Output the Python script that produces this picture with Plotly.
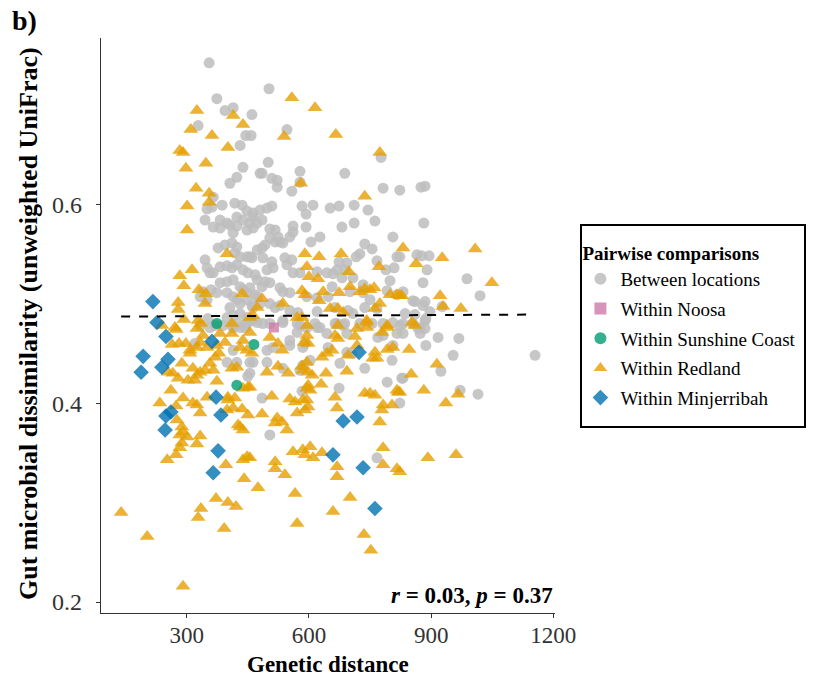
import plotly.graph_objects as go

# ---------------- data ----------------
between_x = [355,374,394,414,460,328,445,458,431,438,423,406,480,365,387,418,436,350,362,448,463,345,382,399,423,438,455,473,
             365,382,406,423,414,448,463,473,377,394,411,423,418,431,345,448,460,350,365,382,399,411,423,438,450,473,468,357,
             382,399,414,431,438,448,333,350,360,374,399,414,423,406,431,448,460,473,340,399,414,431,448,463,352,411,426,443,
             320,333,399,423,455,414,431,448,414,357,370,389,450,
             497,512,463,497,553,571,553,585,590,536,578,615,627,644,664,688,693,647,603,585,578,693,706,676,737,769,782,816,
             831,804,806,792,828,823,583,674,485,504,767,536,455,
             873,885,868,885,887,917,968,954,924,831,971,1015,1155,
             823,875,885,882,865,877,895,823,890,880,988,1020,855,860,885,880,927,897,836,860,887,823,855,873,
             502,546,500,485,578,578,509,522,522,558,688,777,782,583,610,593,652,674,711,745,762,711,681,593,561,561,553,627,
             605,480,497,509,463,485,504,517,504,517,529,524,536,492,485,806,737,755,816,725,716,693,674,688,669,644,659,578,
             561,620,541,558,546,487,509,512,497,455,767,789,809,799,657,681,708,733,492,504,485,455,468,529,553,536,595,620,
             647,701,733,750,792,816,831,504,517,529,553,573,620,664,696,708,737,767,463,480,455,473,487,504,536,571,595,620,
             669,684,725,755,782,806,831]
between_y = [0.742,0.706,0.694,0.697,0.690,0.679,0.669,0.669,0.659,0.637,0.627,0.621,0.631,0.607,0.599,0.601,0.599,0.595,0.597,
             0.593,0.591,0.584,0.584,0.581,0.587,0.584,0.581,0.581,0.577,0.576,0.579,0.578,0.571,0.574,0.576,0.554,0.556,0.559,
             0.561,0.557,0.551,0.547,0.544,0.547,0.546,0.536,0.531,0.537,0.538,0.536,0.539,0.534,0.531,0.524,0.529,0.531,0.521,
             0.522,0.524,0.517,0.514,0.511,0.507,0.504,0.514,0.511,0.511,0.507,0.504,0.496,0.500,0.504,0.498,0.507,0.512,0.486,
             0.488,0.490,0.486,0.483,0.485,0.478,0.480,0.476,
             0.460,0.478,0.441,0.441,0.441,0.453,0.476,0.480,0.476,0.476,0.478,0.478,0.427,
             0.453,0.456,0.441,0.441,0.463,0.471,0.458,0.456,0.460,0.481,0.478,0.480,0.476,0.470,0.480,0.480,0.470,0.456,0.443,
             0.438,0.433,0.451,0.450,0.440,0.435,0.466,0.468,0.470,0.470,0.443,0.458,0.421,0.425,0.400,0.412,0.415,0.405,0.368,
             0.345,0.435,0.430,
             0.470,0.475,0.475,0.483,0.458,0.466,0.465,0.448,0.432,0.425,0.413,0.409,0.448,
             0.614,0.617,0.618,0.581,0.549,0.548,0.548,0.547,0.534,0.521,0.525,0.508,0.503,0.502,0.502,0.498,0.497,0.492,0.490,
             0.489,0.485,0.478,0.480,0.476,
             0.716,0.675,0.642,0.631,0.633,0.622,0.626,0.624,0.617,0.613,0.631,0.647,0.616,0.598,0.599,0.590,0.596,0.598,0.599,
             0.594,0.583,0.581,0.577,0.577,0.578,0.572,0.567,0.567,0.562,0.594,0.596,0.598,0.587,0.584,0.575,0.574,0.566,0.562,
             0.562,0.567,0.561,0.559,0.556,0.567,0.560,0.555,0.547,0.550,0.547,0.541,0.542,0.534,0.534,0.531,0.530,0.531,0.531,
             0.532,0.546,0.544,0.539,0.546,0.542,0.536,0.534,0.547,0.543,0.534,0.536,0.523,0.517,0.526,0.526,0.519,0.522,0.521,
             0.517,0.516,0.509,0.516,0.511,0.512,0.507,0.506,0.507,0.512,0.511,0.504,0.513,0.509,0.512,0.500,0.496,0.498,0.493,
             0.491,0.492,0.496,0.493,0.490,0.496,0.495,0.496,0.500,0.483,0.481,0.480,0.480,0.483,0.480,0.476,0.476,0.480,0.478,
             0.480,0.480,0.480,0.481,0.480]

redland_x = [325,310,362,414,438,401,283,291,347,298,323,355,355,301,301,399,313,283,293,330,347,345,279,279,436,293,328,335,
             239,271,411,463,
             274,264,281,298,308,308,325,340,333,350,325,382,374,394,411,431,448,460,438,379,370,357,365,345,288,254,266,279,
             303,320,325,315,333,374,411,423,261,234,291,274,325,315,333,350,401,401,418,438,450,399,414,436,450,276,288,291,
             283,301,333,325,431,438,426,288,283,274,252,396,448,438,441,475,372,335,328,401,421,392,139,203,291,
             504,534,524,455,497,524,549,583,585,598,595,608,598,603,595,630,642,693,509,455,553,566,585,595,598,590,571,485,
             522,517,534,546,664,669,737,750,762,782,804,779,774,816,819,806,792,762,757,767,671,664,696,718,779,742,742,792,
             718,713,671,588,598,595,644,657,632,561,585,603,590,610,632,517,517,541,455,566,669,669,782,782,816,701,659,571,
             735,752,
             853,860,846,914,851,823,882,936,966,892,961,823,
             831,863,927,1008,1049,823,922,929,973,
             558,615,539,666,774,580,737,590,625,679,595,600,622,698,772,583,590,635,625,674,701,725,737,750,760,774,762,799,
             816,828,652,671,684,536,485,473,571,583,595,742,792,455]
redland_y = [0.694,0.675,0.669,0.689,0.680,0.657,0.654,0.652,0.641,0.636,0.616,0.611,0.602,0.598,0.574,0.550,0.534,0.528,0.518,
             0.514,0.510,0.500,0.501,0.494,0.510,0.484,0.483,0.480,0.478,0.476,0.480,0.488,
             0.474,0.459,0.460,0.460,0.453,0.450,0.475,0.468,0.461,0.456,0.456,0.470,0.458,0.461,0.470,0.456,0.453,0.450,0.463,
             0.450,0.446,0.440,0.433,0.433,0.440,0.431,0.430,0.425,0.423,0.423,0.428,0.435,0.431,0.422,0.435,0.436,0.413,0.400,
             0.405,0.397,0.398,0.400,0.390,0.406,0.406,0.403,0.405,0.415,0.416,0.393,0.395,0.394,0.388,0.383,0.376,0.371,0.368,
             0.366,0.367,0.359,0.376,0.373,0.378,0.360,0.355,0.348,0.343,0.338,0.346,0.343,0.324,0.315,0.304,0.294,0.285,0.300,
             0.296,0.274,0.290,0.266,0.216,
             0.466,0.453,0.460,0.471,0.431,0.437,0.430,0.437,0.433,0.431,0.441,0.428,0.418,0.413,0.415,0.419,0.430,0.432,0.407,
             0.416,0.404,0.401,0.403,0.403,0.396,0.393,0.390,0.389,0.385,0.380,0.381,0.373,0.406,0.395,0.410,0.410,0.408,0.398,
             0.398,0.393,0.381,0.413,0.411,0.456,0.454,0.451,0.445,0.445,0.465,0.468,0.448,0.458,0.471,0.476,0.481,0.478,0.475,
             0.467,0.478,0.461,0.460,0.468,0.450,0.453,0.446,0.351,0.353,0.356,0.348,0.345,0.350,0.341,0.334,0.328,0.345,0.309,
             0.336,0.326,0.355,0.338,0.334,0.305,0.291,0.279,0.268,0.252,
             0.481,0.478,0.454,0.439,0.429,0.411,0.413,0.400,0.409,0.345,0.348,0.331,
             0.556,0.540,0.546,0.555,0.521,0.508,0.508,0.497,0.495,
             0.707,0.697,0.668,0.670,0.652,0.621,0.608,0.550,0.547,0.550,0.537,0.527,0.525,0.532,0.537,0.513,0.509,0.512,0.503,
             0.511,0.517,0.512,0.515,0.514,0.516,0.500,0.495,0.509,0.509,0.508,0.495,0.495,0.491,0.500,0.505,0.496,0.486,0.486,
             0.478,0.483,0.476,0.486]

minj_x = [217,227,249,193,254,239,188,362,372,261,249,384,247,377,365,723,684,718,659,733,762]
minj_y = [0.502,0.481,0.467,0.447,0.444,0.436,0.431,0.462,0.406,0.391,0.387,0.388,0.373,0.352,0.330,0.451,0.382,0.386,
          0.348,0.335,0.294]

sunshine_x = [374,465,423]
sunshine_y = [0.480,0.459,0.418]

noosa_x = [514]
noosa_y = [0.476]

trend_x = [139, 1155]
trend_y = [0.487, 0.489]

FONT = "Liberation Serif"

fig = go.Figure()

fig.add_trace(go.Scatter(x=between_x, y=between_y, mode="markers", name="Between locations",
                         legendrank=1, legendgroup="g1",
                         marker=dict(symbol="circle", size=11, color="#BDBDBD", opacity=0.85, line=dict(width=0))))
fig.add_trace(go.Scatter(x=redland_x, y=redland_y, mode="markers", name="Within Redland",
                         legendrank=4, legendgroup="g4",
                         marker=dict(symbol="triangle-up", size=13, color="#E69F00", opacity=0.8, line=dict(width=0))))
fig.add_trace(go.Scatter(x=minj_x, y=minj_y, mode="markers", name="Within Minjerribah",
                         legendrank=5, legendgroup="g5",
                         marker=dict(symbol="diamond", size=12, color="#0072B2", opacity=0.8, line=dict(width=0))))
fig.add_trace(go.Scatter(x=sunshine_x, y=sunshine_y, mode="markers", name="Within Sunshine Coast",
                         legendrank=3, legendgroup="g3",
                         marker=dict(symbol="circle", size=11, color="#009E73", opacity=0.8, line=dict(width=0))))
fig.add_trace(go.Scatter(x=noosa_x, y=noosa_y, mode="markers", name="Within Noosa",
                         legendrank=2, legendgroup="g2",
                         marker=dict(symbol="square", size=10, color="#CC79A7", opacity=0.8, line=dict(width=0))))
fig.add_trace(go.Scatter(x=trend_x, y=trend_y, mode="lines", showlegend=False,
                         line=dict(color="black", width=2, dash="9px,9px")))

axis_common = dict(showgrid=False, zeroline=False, showline=True, linecolor="#333333", linewidth=1.2,
                   ticks="outside", ticklen=4, tickcolor="#333333", tickwidth=1.2)

fig.update_layout(
    width=814, height=688,
    margin=dict(l=101, r=259, t=38, b=75),
    paper_bgcolor="white", plot_bgcolor="white",
    font=dict(family=FONT, color="black"),
    xaxis=dict(range=[89.6, 1204], tickvals=[300, 600, 900, 1200], ticklabelstandoff=-3,
               tickfont=dict(family=FONT, size=23, color="#333333"), **axis_common),
    yaxis=dict(range=[0.189, 0.767], tickvals=[0.2, 0.4, 0.6], tickformat=".1f",
               ticklabelstandoff=9, tickfont=dict(family=FONT, size=24, color="#333333"), **axis_common),
    legend=dict(x=1.056, y=0.657, xanchor="left", yanchor="top",
                borderwidth=0, bgcolor="rgba(0,0,0,0)",
                title=dict(text="<b>Pairwise comparisons</b>", font=dict(family=FONT, size=19, color="black")),
                font=dict(family=FONT, size=19, color="black"),
                itemsizing="constant", tracegroupgap=2),
    showlegend=True,
)

# legend frame
fig.add_shape(type="rect", xref="paper", yref="paper",
              x0=(581 - 101) / 454, x1=(805 - 101) / 454, y0=(613 - 427) / 575, y1=(613 - 225) / 575,
              line=dict(color="black", width=2), fillcolor="rgba(0,0,0,0)")

fig.add_annotation(text="<b>Genetic distance</b>", xref="paper", yref="paper", x=0.5, y=-0.089,
                   xanchor="center", yanchor="middle", showarrow=False,
                   font=dict(family=FONT, size=23, color="black"))
fig.add_annotation(text="<b>Gut microbial dissimilarity (unweighted UniFrac)</b>", xref="paper", yref="paper",
                   x=-0.158, y=0.503, xanchor="center", yanchor="middle", textangle=-90, showarrow=False,
                   font=dict(family=FONT, size=26, color="black"))
fig.add_annotation(text="<b><i>r</i> = 0.03, <i>p</i> = 0.37</b>", xref="paper", yref="paper",
                   x=1.0, y=0.031, xanchor="right", yanchor="middle", showarrow=False,
                   font=dict(family=FONT, size=23, color="black"))
fig.add_annotation(text="<b>b)</b>", xref="paper", yref="paper", x=-0.2, y=1.03,
                   xanchor="left", yanchor="middle", showarrow=False,
                   font=dict(family=FONT, size=28, color="black"))

fig.write_html("out.html")
